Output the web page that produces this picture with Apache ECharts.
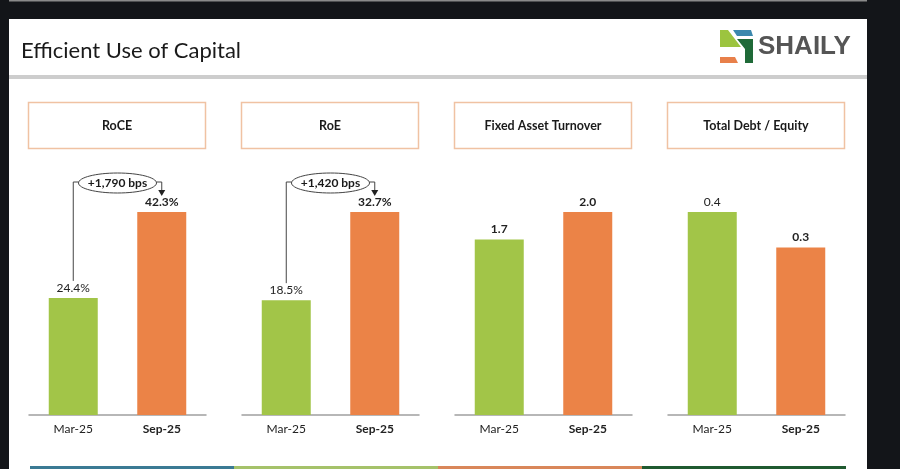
<!DOCTYPE html>
<html>
<head>
<meta charset="utf-8">
<script src="https://cdn.jsdelivr.net/npm/echarts@6/dist/echarts.min.js"></script>
<style>
html,body{margin:0;padding:0;background:#131519;}
#c{width:900px;height:469px;}
</style>
</head>
<body>
<div id="c"></div>
<script>
// ---- data ----
const categories = ['Mar-25', 'Sep-25'];
const panelTitles = ['RoCE', 'RoE', 'Fixed Asset Turnover', 'Total Debt / Equity'];
const roce = [24.4, 42.3];
const roe = [18.5, 32.7];
const fixedAssetTurnover = [1.73, 2.0];
const debtEquity = [0.40, 0.33];
const changeLabels = ['+1,790 bps', '+1,420 bps'];
const pageTitle = 'Efficient Use of Capital';

const panels = [roce, roe, fixedAssetTurnover, debtEquity];
const isPct = [true, true, false, false];
const marBold = [false, false, true, false];

const GREEN = '#a2c548', ORANGE = '#eb8347';
const FONT = 'Lato, "Noto Sans", sans-serif';
const gridLefts = [29, 242, 455, 668];
const gridW = 177;

const chart = echarts.init(document.getElementById('c'), null, {renderer: 'canvas'});

const grids = [], xAxes = [], yAxes = [], series = [];
panels.forEach((vals, i) => {
  grids.push({left: gridLefts[i], width: gridW, top: 212, bottom: 54, containLabel: false});
  xAxes.push({
    type: 'category', gridIndex: i, data: categories,
    axisLine: {lineStyle: {color: '#a0a0a0', width: 1.5}},
    axisTick: {show: false},
    axisLabel: {
      margin: 8, fontFamily: FONT, fontSize: 12, color: '#222',
      formatter: (v, idx) => idx === 1 ? '{b|' + v + '}' : '{n|' + v + '}',
      rich: {b: {fontWeight: 'bold', fontFamily: FONT, fontSize: 12, color: '#222'},
             n: {fontWeight: 'normal', fontFamily: FONT, fontSize: 12, color: '#222'}}
    }
  });
  yAxes.push({type: 'value', gridIndex: i, min: 0, max: Math.max(...vals), show: false, splitLine: {show: false}});
  series.push({
    type: 'bar', xAxisIndex: i, yAxisIndex: i, barWidth: 49,
    data: vals.map((v, k) => ({
      value: v,
      itemStyle: {color: k === 0 ? GREEN : ORANGE},
      label: {fontWeight: (k === 1 || marBold[i]) ? 'bold' : 'normal'}
    })),
    label: {
      show: true, position: 'top', distance: 4, fontFamily: FONT, fontSize: 12, color: '#222',
      formatter: p => p.value.toFixed(1) + (isPct[i] ? '%' : '')
    },
    emphasis: {disabled: true}, animation: false
  });
});

const baseGraphics = [
  {type: 'rect', shape: {x: 0, y: 0, width: 900, height: 469}, style: {fill: '#131519'}, z: -10},
  {type: 'rect', shape: {x: 9, y: 0, width: 858, height: 1.5}, style: {fill: '#8a8a8a'}, z: -9},
  {type: 'rect', shape: {x: 9, y: 19, width: 858, height: 450}, style: {fill: '#ffffff'}, z: -9},
  {type: 'rect', shape: {x: 9, y: 75, width: 858, height: 4}, style: {fill: '#cdcdcd'}, z: -8},
  {type: 'text', x: 21, y: 51, style: {text: pageTitle, fontFamily: FONT, fontSize: 22, fill: '#1a1a1a', verticalAlign: 'middle'}},
  // logo
  {type: 'polygon', shape: {points: [[720, 30], [728, 30], [741, 47], [720, 47]]}, style: {fill: '#9cc43f'}},
  {type: 'polygon', shape: {points: [[733, 30], [751, 30], [753, 36], [737, 36]]}, style: {fill: '#3b88ad'}},
  {type: 'polygon', shape: {points: [[737, 39], [753, 39], [753, 63], [745, 63], [745, 49]]}, style: {fill: '#1f6a38'}},
  {type: 'polygon', shape: {points: [[720, 57], [735, 57], [738, 63], [720, 63]]}, style: {fill: '#e8804a'}},
  {type: 'text', x: 758, y: 47, style: {text: 'SHAILY', fontFamily: '"Liberation Sans", Arial, sans-serif', fontWeight: 'bold', fontSize: 26, fill: '#555555', verticalAlign: 'middle'}},
  // bottom stripe
  {type: 'rect', shape: {x: 30, y: 466, width: 204, height: 3}, style: {fill: '#3b7a94'}},
  {type: 'rect', shape: {x: 234, y: 466, width: 204, height: 3}, style: {fill: '#a5c26a'}},
  {type: 'rect', shape: {x: 438, y: 466, width: 204, height: 3}, style: {fill: '#d9875a'}},
  {type: 'rect', shape: {x: 642, y: 466, width: 204, height: 3}, style: {fill: '#1f5a30'}}
];
panelTitles.forEach((t, i) => {
  baseGraphics.push({type: 'rect', shape: {x: gridLefts[i] - 0.5, y: 102.5, width: 177, height: 46},
    style: {fill: '#fff', stroke: '#f0c2a3', lineWidth: 1.5}});
  baseGraphics.push({type: 'text', x: gridLefts[i] + 88, y: 126,
    style: {text: t, fontFamily: FONT, fontWeight: 'bold', fontSize: 12.5, fill: '#1a1a1a', align: 'center', verticalAlign: 'middle'}});
});

chart.setOption({
  animation: false,
  grid: grids, xAxis: xAxes, yAxis: yAxes, series: series,
  graphic: baseGraphics
});

// annotations placed from data via the chart's own scales
const ann = [];
changeLabels.forEach((lbl, i) => {
  const vals = panels[i];
  const p0 = chart.convertToPixel({seriesIndex: i}, [0, vals[0]]);
  const p1 = chart.convertToPixel({seriesIndex: i}, [1, vals[1]]);
  const yTop = p1[1] - 30;
  const tip = p1[1] - 16;
  const cx = (p0[0] + p1[0]) / 2;
  const rx = 39, ry = 10;
  ann.push({type: 'polyline', shape: {points: [[p0[0], p0[1] - 17], [p0[0], yTop], [cx - rx, yTop]]},
    style: {stroke: '#444', lineWidth: 1, fill: null}, z: 10});
  ann.push({type: 'polyline', shape: {points: [[cx + rx, yTop], [p1[0], yTop], [p1[0], tip - 5]]},
    style: {stroke: '#444', lineWidth: 1, fill: null}, z: 10});
  ann.push({type: 'polygon', shape: {points: [[p1[0] - 3.5, tip - 6], [p1[0] + 3.5, tip - 6], [p1[0], tip]]},
    style: {fill: '#222'}, z: 10});
  ann.push({type: 'ellipse', shape: {cx: cx, cy: yTop + 1, rx: rx, ry: ry},
    style: {fill: '#fff', stroke: '#444', lineWidth: 1}, z: 11});
  ann.push({type: 'text', x: cx, y: yTop + 1, z: 12,
    style: {text: lbl, fontFamily: FONT, fontWeight: 'bold', fontSize: 12, fill: '#1a1a1a', align: 'center', verticalAlign: 'middle'}});
});
chart.setOption({graphic: baseGraphics.concat(ann)});
</script>
</body>
</html>
